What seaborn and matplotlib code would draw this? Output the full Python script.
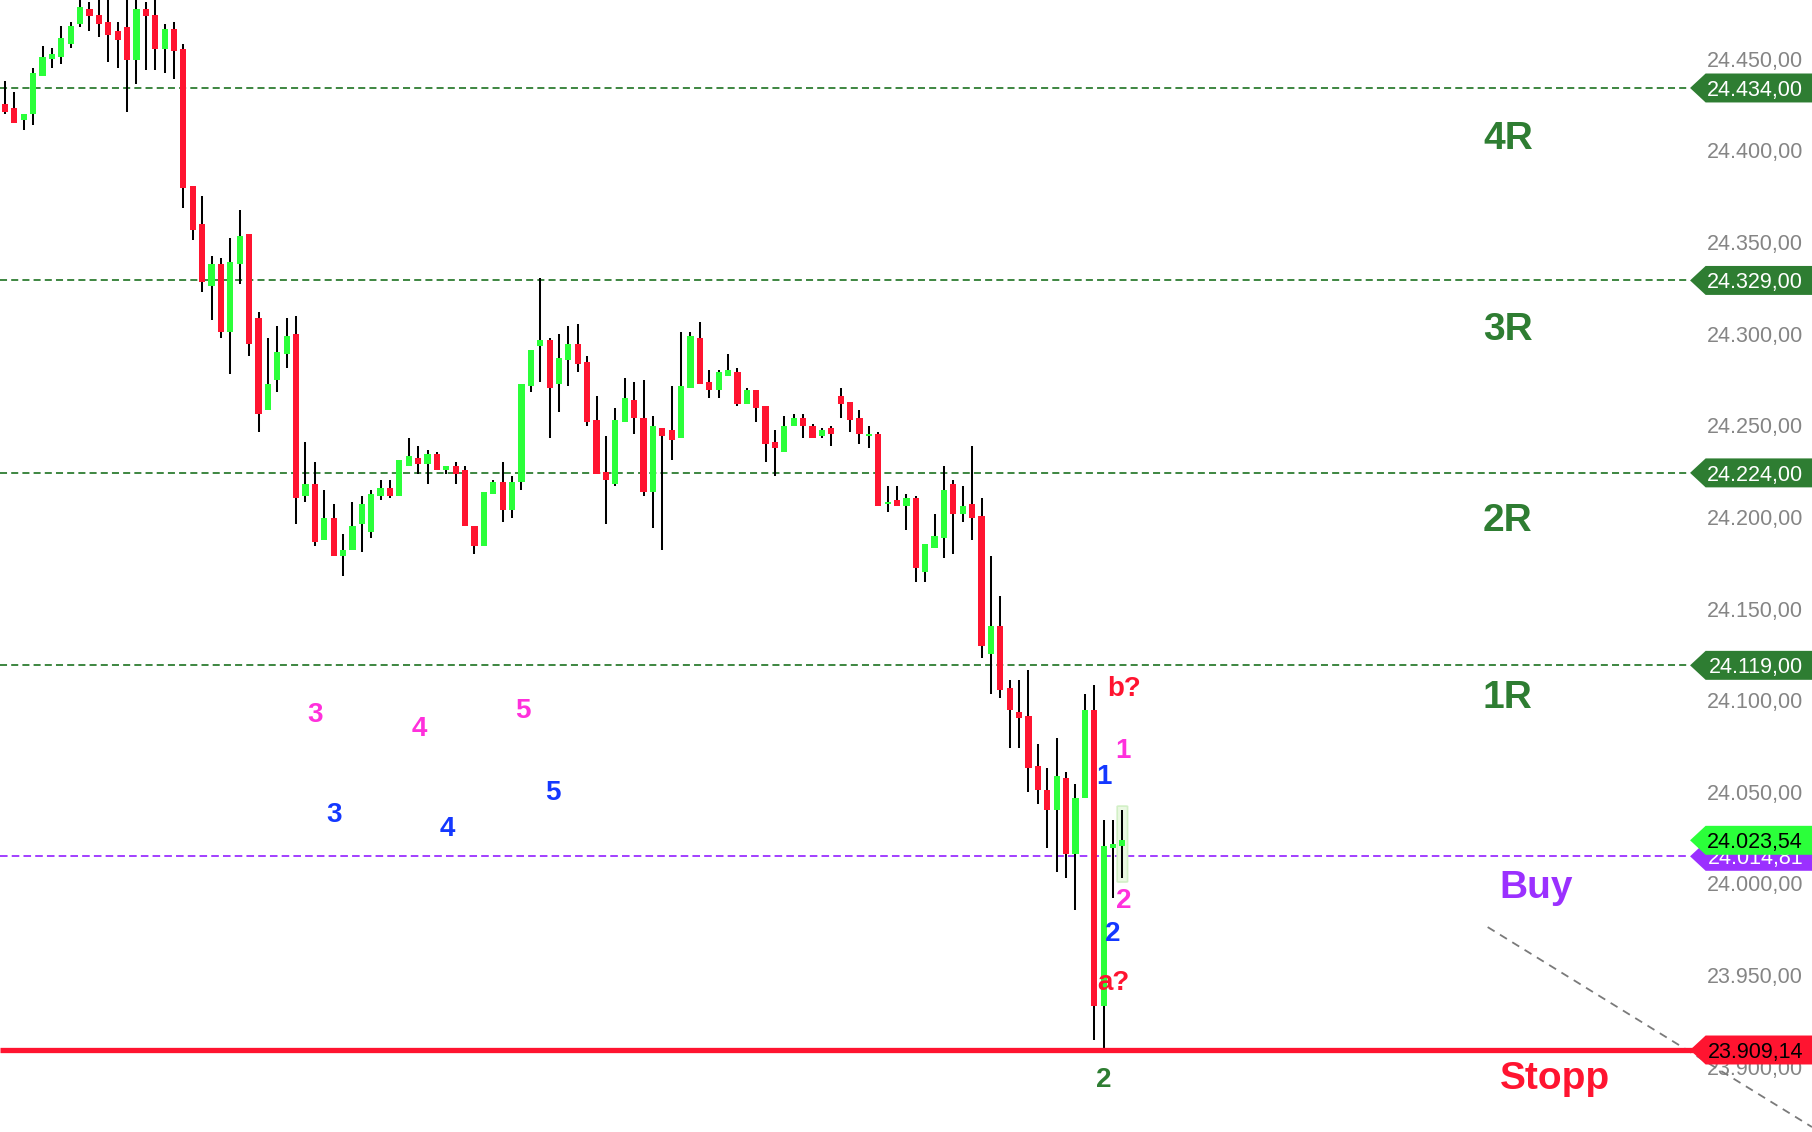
import matplotlib
matplotlib.use("Agg")
import matplotlib.pyplot as plt
import seaborn as sns
import numpy as np
import pandas as pd
from matplotlib.patches import Polygon, FancyBboxPatch
from matplotlib.transforms import blended_transform_factory

# ---------------- data ----------------
opens = [24425, 24423, 24416.5, 24420, 24440.5, 24450, 24451, 24458, 24469, 24477,
         24474, 24470, 24465, 24467, 24449, 24477, 24474, 24455, 24466, 24455,
         24380.5, 24359.8, 24326, 24338, 24300.9, 24338, 24354.3, 24308.5, 24258.3, 24274.7,
         24288.9, 24299.8, 24211.4, 24217.9, 24187.4, 24199.4, 24178.6, 24181.9, 24196.1, 24191.7,
         24211.4, 24215.7, 24211.4, 24227.7, 24232.1, 24228.8, 24234.3, 24225.6, 24227.8, 24225.6,
         24195, 24184.1, 24212.5, 24219, 24203.7, 24219, 24271.4, 24293.2, 24296.5, 24272.5,
         24285.6, 24294.3, 24284.5, 24252.8, 24224.5, 24217.9, 24251.8, 24263.8, 24253.9, 24213.6,
         24248.5, 24247.4, 24243, 24270.3, 24297.6, 24273.6, 24269.2, 24276.9, 24279, 24261.6,
         24269.2, 24260.5, 24240.8, 24235.4, 24249.6, 24253.9, 24249.6, 24244.1, 24248.5, 24266,
         24262.7, 24253.9, 24244.1, 24245.2, 24207, 24209.2, 24205.9, 24210.3, 24169.9, 24183,
         24188.5, 24217.9, 24201.6, 24207, 24200.5, 24125.2, 24140.5, 24106.6, 24093.5, 24091.4,
         24064.1, 24051, 24040.1, 24057.5, 24016.1, 24046.6, 24094.6, 23933.1, 24019.3, 24020.4]
highs = [24438, 24432, 24420, 24445, 24457, 24456, 24468, 24470, 24485, 24481,
         24485, 24486, 24470, 24488, 24486, 24481, 24485, 24469, 24470, 24458,
         24380.5, 24375, 24342.3, 24341.2, 24352.1, 24367.4, 24354.3, 24311.8, 24297.6, 24304.1,
         24308.5, 24309.6, 24240.8, 24229.9, 24214.7, 24207, 24190.6, 24208.1, 24211.4, 24214.7,
         24220.1, 24220.1, 24231, 24243, 24238.7, 24236.5, 24235.4, 24227.8, 24230, 24227.8,
         24195, 24213.6, 24220.1, 24230, 24222.3, 24272.5, 24291, 24330.3, 24297.6, 24299.8,
         24304.1, 24305.2, 24287.8, 24266, 24244.1, 24259.4, 24275.8, 24273.6, 24274.7, 24255,
         24248.5, 24271.4, 24300.9, 24300.9, 24306.3, 24280.1, 24280.1, 24288.9, 24281.2, 24270.3,
         24269.2, 24260.5, 24247.4, 24255, 24256.1, 24256.1, 24250.7, 24248.5, 24249.6, 24270.3,
         24262.7, 24258.3, 24249.6, 24246.3, 24216.8, 24216.8, 24212.5, 24211.4, 24185.2, 24201.6,
         24227.8, 24220.1, 24216.8, 24238.7, 24210.3, 24178.6, 24156.8, 24111, 24111, 24116.4,
         24076.1, 24063, 24079.3, 24060.8, 24054.3, 24103.4, 24108.3, 24034.6, 24034.6, 24040.1]
lows = [24420, 24415, 24411, 24414, 24440.5, 24445, 24447, 24456, 24467, 24465,
        24462, 24448, 24445, 24421, 24436, 24444, 24444, 24442, 24439, 24368.5,
        24351, 24322.7, 24307.4, 24297.6, 24277.9, 24327, 24287.8, 24246.3, 24258.3, 24268.1,
        24281.2, 24196.1, 24208.1, 24184.1, 24187.4, 24178.6, 24167.7, 24181.9, 24180.8, 24188.5,
        24209.2, 24210.3, 24211.4, 24227.7, 24223.4, 24217.9, 24225.6, 24223.4, 24217.9, 24195,
        24179.7, 24184.1, 24212.5, 24197.2, 24199.4, 24214.7, 24268.1, 24273.6, 24243, 24257.2,
        24271.4, 24279, 24249.6, 24223.4, 24196.1, 24216.8, 24251.8, 24245.2, 24211.4, 24193.9,
        24181.9, 24231, 24243, 24270.3, 24272.5, 24264.9, 24264.9, 24276.9, 24260.5, 24261.6,
        24251.8, 24229.9, 24222.3, 24235.4, 24249.6, 24243, 24243, 24243, 24238.7, 24253.9,
        24246.3, 24239.8, 24237.6, 24205.9, 24202.7, 24205.9, 24192.8, 24164.5, 24164.5, 24183,
        24177.6, 24179.7, 24197.2, 24187.4, 24123, 24103.4, 24101.2, 24073.9, 24073.9, 24049.9,
        24043.3, 24019.3, 24006.2, 24003, 23985.5, 24046.6, 23914.6, 23910.2, 23992, 24003]
closes = [24421, 24415, 24420, 24442, 24451, 24452.5, 24461, 24468, 24478, 24473,
          24469, 24463, 24460, 24449, 24477, 24473, 24455, 24466, 24454, 24379.4,
          24356.5, 24328, 24338, 24300.9, 24339.1, 24353.2, 24294.3, 24256.1, 24272.5, 24290,
          24298.7, 24210.3, 24217.9, 24186.3, 24199.4, 24178.6, 24181.9, 24195, 24207, 24212.5,
          24215.7, 24211.4, 24231, 24233.2, 24228.8, 24234.3, 24225.6, 24227.8, 24223.4, 24195,
          24184.1, 24213.6, 24219, 24203.7, 24219, 24272.5, 24291, 24296.5, 24270.3, 24286.7,
          24294.3, 24283.4, 24251.8, 24223.4, 24220.1, 24252.8, 24264.8, 24253.9, 24213.6, 24249.6,
          24244.1, 24241.9, 24271.4, 24298.7, 24272.5, 24269.2, 24279, 24280.1, 24261.6, 24269.2,
          24259.4, 24239.8, 24237.6, 24249.6, 24253.9, 24249.6, 24243, 24247.4, 24245.2, 24261.6,
          24252.8, 24245.2, 24245.2, 24205.9, 24208.1, 24205.9, 24210.3, 24172.1, 24185.2, 24189.6,
          24214.7, 24201.6, 24205.9, 24199.4, 24129.5, 24140.5, 24105.5, 24094.6, 24090.3, 24063,
          24051, 24040.1, 24058.6, 24016.1, 24046.6, 24094.6, 23933.1, 24020.4, 24021.5, 24023.54]

r_levels = [24434.0, 24329.0, 24224.0, 24119.0]
r_names = ["4R", "3R", "2R", "1R"]
r_label_y = [24405.9, 24301.7, 24198.0, 24101.2]
buy_level = 24014.81
stop_level = 23909.14
last_price = 24023.54
tick_values = [23900, 23950, 24000, 24050, 24100, 24150, 24200, 24250,
               24300, 24350, 24400, 24450]

wave_text = ["3", "4", "5", "1", "2", "3", "4", "5", "1", "2", "b?", "a?", "2"]
wave_x = [33.0, 44.1, 55.2, 119.1, 119.1, 35.1, 47.1, 58.3, 117.0, 118.0, 119.2, 118.0, 117.0]
wave_y = [24091.9, 24084.3, 24094.1, 24072.3, 23990.4, 24037.3, 24029.7, 24049.3,
          24058.3, 23972.4, 24106.1, 23945.7, 23892.5]
wave_kind = ["m", "m", "m", "m", "m", "b", "b", "b", "b", "b", "r", "r", "g"]

diag_x = [157.9, 192.44]
diag_y = [23976.2, 23867.1]

# ---------------- style ----------------
sns.set_theme(style="white")
plt.rcParams["font.family"] = ["Liberation Sans", "DejaVu Sans"]

RED = "#FF1430"
GREEN = "#2BFF3A"
DKGREEN = "#2E7D32"
PURPLE = "#9B30FF"
MAGENTA = "#FF30DC"
BLUE = "#1438FF"
kind_color = {"m": MAGENTA, "b": BLUE, "r": RED, "g": DKGREEN}


def de_fmt(v):
    s = f"{v:,.2f}"
    return s.replace(",", "X").replace(".", ",").replace("X", ".")


fig = plt.figure(figsize=(18.12, 11.32), dpi=100)
ax = fig.add_axes([0, 0, 1, 1])
ax.set_xlim(-0.53, 192.44)
ax.set_ylim(23864.4, 24482)

df = pd.DataFrame(dict(open=opens, high=highs, low=lows, close=closes))
df["idx"] = np.arange(len(df))
up = df["close"] >= df["open"]
colors = np.where(up, GREEN, RED)

# highlight box of the running candle
last_i = df["idx"].iloc[-1]
ax.add_patch(FancyBboxPatch((last_i - 0.55, 24000.8), 1.1, 41.4,
                            boxstyle="round,pad=0,rounding_size=0.2",
                            facecolor="#EAF8E2", edgecolor="#D2F0C6", lw=1.2, zorder=1.5))

ax.vlines(df["idx"], df["low"], df["high"], color="black", lw=1.45, zorder=2)
body_bottom = np.minimum(df["open"], df["close"])
body_h = np.maximum(np.abs(df["close"] - df["open"]), 1.2)
ax.bar(df["idx"], body_h, bottom=body_bottom, width=0.66, color=colors, lw=0, zorder=3)

# level lines
line_end = 179.4
for lv in r_levels:
    ax.plot([-0.53, line_end], [lv, lv], color=DKGREEN, lw=1.3,
            linestyle=(0, (3.9, 2.3)), zorder=1)
ax.plot([-0.53, line_end], [buy_level, buy_level], color=PURPLE, lw=1.3,
        linestyle=(0, (4.2, 2.3)), zorder=1)
ax.plot([-0.53, line_end + 1], [stop_level, stop_level], color=RED, lw=3.8,
        solid_capstyle="butt", zorder=4)

# diagonal dashed line
sns.lineplot(x=diag_x, y=diag_y, ax=ax, color="#7a7a7a", lw=1.3,
             linestyle=(0, (4.5, 3.5)), legend=False, zorder=1)

# y tick labels inside on the right
ax.set_xticks([])
ax.set_yticks(tick_values)
ax.set_yticklabels([de_fmt(t) for t in tick_values])
ax.yaxis.tick_right()
ax.tick_params(axis="y", which="both", length=0, pad=-6.5, labelsize=15.5,
               labelcolor="#858585")
for t in ax.get_yticklabels():
    t.set_horizontalalignment("right")
for s in ax.spines.values():
    s.set_visible(False)
ax.set_axisbelow(True)

# price tags
tr = blended_transform_factory(ax.transAxes, ax.transData)
h = 7.9


def tag(y, text, face, tcolor, z):
    poly = Polygon([(0.9327, y), (0.9413, y + h), (1.01, y + h), (1.01, y - h), (0.9413, y - h)],
                   closed=True, transform=tr, facecolor=face, edgecolor="none", zorder=z,
                   clip_on=False)
    ax.add_patch(poly)
    ax.text(0.9951, y, text, transform=tr, ha="right", va="center_baseline",
            fontsize=15.5, color=tcolor, zorder=z + 0.1)


for lv in r_levels:
    tag(lv, de_fmt(lv), DKGREEN, "white", 6)
tag(buy_level, de_fmt(buy_level), PURPLE, "white", 6)
tag(last_price, de_fmt(last_price), GREEN, "black", 7)
tag(stop_level, de_fmt(stop_level), RED, "black", 6)

# level names
for name, yy in zip(r_names, r_label_y):
    ax.text(157.4, yy, name, ha="left", va="center", fontsize=28,
            fontweight="bold", color=DKGREEN, zorder=5)
ax.text(159.2, 23997.3, "Buy", ha="left", va="center", fontsize=28,
        fontweight="bold", color=PURPLE, zorder=5)
ax.text(159.2, 23893.1, "Stopp", ha="left", va="center", fontsize=28,
        fontweight="bold", color=RED, zorder=5)

# wave labels
for txt, xx, yy, k in zip(wave_text, wave_x, wave_y, wave_kind):
    ax.text(xx, yy, txt, ha="center", va="center", fontsize=20,
            fontweight="bold", color=kind_color[k], zorder=5)

fig.savefig("out.png", dpi=100)
